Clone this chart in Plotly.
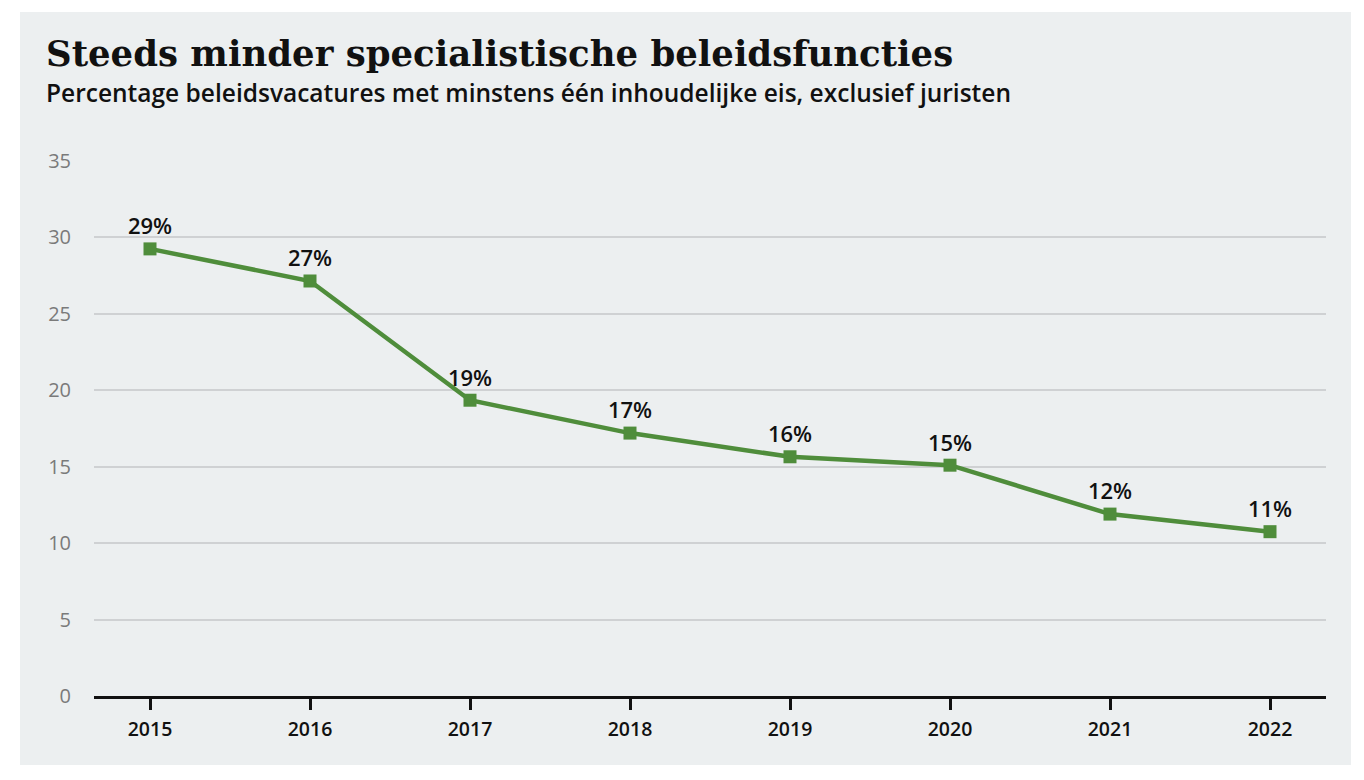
import plotly.graph_objects as go

years = [2015, 2016, 2017, 2018, 2019, 2020, 2021, 2022]
values = [29.25, 27.15, 19.35, 17.2, 15.65, 15.1, 11.9, 10.75]
labels = ["29%", "27%", "19%", "17%", "16%", "15%", "12%", "11%"]
y_ticks = [0, 5, 10, 15, 20, 25, 30, 35]

title = "Steeds minder specialistische beleidsfuncties"
subtitle = "Percentage beleidsvacatures met minstens één inhoudelijke eis, exclusief juristen"

GREEN = "#4f8d3b"
BG = "#eceff0"

W, H = 1364, 780
L, R, T, B = 94, 38, 161, 84
pw, ph = W - L - R, H - T - B

def px_x(x):
    return (x - L) / pw

def px_y(y):
    return (H - B - y) / ph

fig = go.Figure()
fig.add_trace(go.Scatter(
    x=years, y=values, text=labels,
    mode="lines+markers+text",
    line=dict(color=GREEN, width=4.5),
    marker=dict(symbol="square", size=13, color=GREEN),
    textposition="top center",
    textfont=dict(family="Open Sans", size=22, color="#111111", weight=600),
    cliponaxis=False,
    hoverinfo="skip",
))

fig.add_shape(type="rect", xref="paper", yref="paper",
              x0=px_x(20), x1=px_x(1351), y0=px_y(765), y1=px_y(12),
              fillcolor=BG, line=dict(width=0), layer="below")

fig.add_annotation(text=title, xref="paper", yref="paper",
                   x=px_x(44), y=px_y(31), xanchor="left", yanchor="top",
                   showarrow=False,
                   font=dict(family="DejaVu Serif", size=35.5, color="#111111", weight=700))
fig.add_annotation(text=subtitle, xref="paper", yref="paper",
                   x=px_x(44), y=px_y(74), xanchor="left", yanchor="top",
                   showarrow=False,
                   font=dict(family="Open Sans", size=24.5, color="#111111", weight=600))

fig.update_layout(
    width=W, height=H,
    margin=dict(l=L, r=R, t=T, b=B, pad=0),
    paper_bgcolor="white",
    plot_bgcolor="rgba(0,0,0,0)",
    showlegend=False,
    xaxis=dict(
        range=[2015 - 0.35, 2022 + 0.35],
        tickvals=years, ticktext=[str(y) for y in years],
        showgrid=False, zeroline=False,
        showline=True, linecolor="#111111", linewidth=3,
        ticks="outside", ticklen=11, tickwidth=3, tickcolor="#111111",
        ticklabelstandoff=3,
        tickfont=dict(family="Open Sans", size=19.5, color="#111111", weight=600),
        fixedrange=True,
    ),
    yaxis=dict(
        range=[0, 35],
        tickvals=y_ticks,
        showgrid=True, gridcolor="#cfd1d3", gridwidth=2,
        zeroline=False, showline=False,
        ticks="", ticklabelstandoff=22,
        tickfont=dict(family="Open Sans", size=20, color="#7a7a7a"),
        fixedrange=True,
    ),
)

fig.write_html("out.html")
